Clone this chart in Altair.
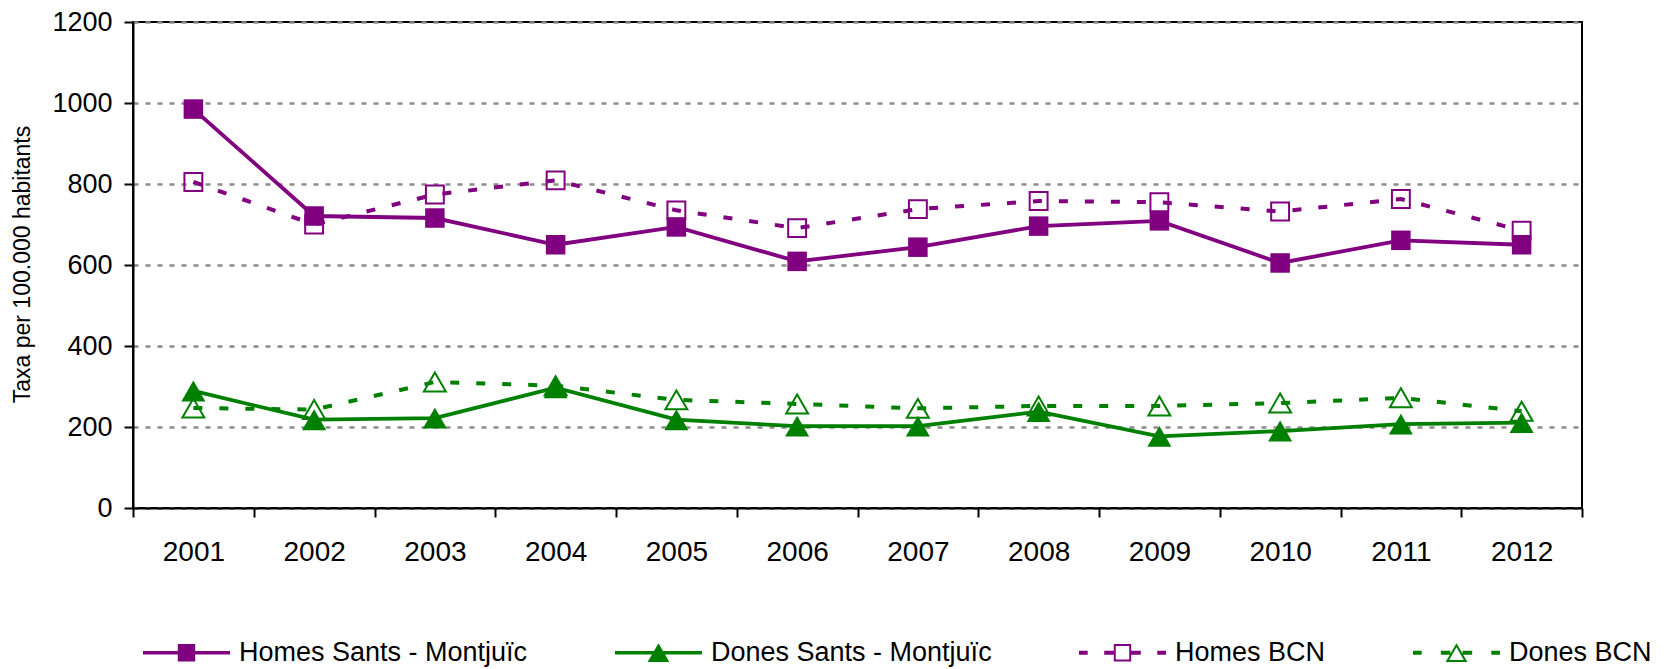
import altair as alt
import pandas as pd

years = ["2001", "2002", "2003", "2004", "2005", "2006", "2007", "2008", "2009", "2010", "2011", "2012"]
homes_sants = [985, 721, 716, 650, 694, 609, 644, 696, 709, 605, 661, 650]
dones_sants = [289, 218, 222, 297, 218, 202, 202, 238, 177, 190, 207, 211]
homes_bcn = [805, 700, 774, 809, 735, 691, 738, 758, 755, 732, 763, 685]
dones_bcn = [247, 243, 311, 302, 267, 257, 246, 252, 252, 259, 272, 239]

series_names = ["Homes Sants - Montjuïc", "Dones Sants - Montjuïc", "Homes BCN", "Dones BCN"]
series_values = [homes_sants, dones_sants, homes_bcn, dones_bcn]
series_colors = ["#800080", "#008000", "#800080", "#008000"]
series_solid = [True, True, False, False]
series_shapes = ["square", "triangle-up", "square", "triangle-up"]

rows = []
for name, vals in zip(series_names, series_values):
    for yr, v in zip(years, vals):
        rows.append({"year": yr, "value": v, "series": name})
df = pd.DataFrame(rows)

FONT = "Liberation Sans"

# legend symbols: line + marker drawn as one filled path (unit box -1..1)
solid_bar = "M-1,-0.04H1V0.04H-1Z"
dash_sq = ("M-1,-0.045H-0.8V0.045H-1Z M-0.42,-0.045H-0.2V0.045H-0.42Z "
           "M0.2,-0.045H0.42V0.045H0.2Z M0.8,-0.045H1V0.045H0.8Z")
dash_tri = ("M-1,-0.045H-0.8V0.045H-1Z M-0.36,-0.045H-0.14V0.045H-0.36Z "
            "M0.14,-0.045H0.36V0.045H0.14Z M0.8,-0.045H1V0.045H0.8Z")
sym_hs = solid_bar + " M-0.2,-0.2H0.2V0.2H-0.2Z"
sym_ds = solid_bar + " M0,-0.22L0.25,0.21H-0.25Z"
sym_hb = dash_sq + " M-0.2,-0.2H0.2V0.2H-0.2Z M-0.155,-0.155V0.155H0.155V-0.155Z"
sym_db = dash_tri + " M0,-0.22L0.25,0.21H-0.25Z M0,-0.125L-0.168,0.164H0.168Z"
legend_syms = [sym_hs, sym_ds, sym_hb, sym_db]

x_enc = alt.X(
    "year:N",
    sort=years,
    bandPosition=0.5,
    scale=alt.Scale(type="band", paddingInner=0, paddingOuter=0),
    axis=alt.Axis(
        title=None, labelAngle=0, tickBand="extent", grid=False,
        domainColor="black", domainWidth=2, tickColor="black", tickWidth=2,
        tickSize=9, labelFontSize=28, labelPadding=21, labelColor="black",
    ),
)
y_enc = alt.Y(
    "value:Q",
    scale=alt.Scale(domain=[0, 1200], nice=False),
    axis=alt.Axis(
        values=[0, 200, 400, 600, 800, 1000, 1200], format="d",
        title="Taxa per 100.000 habitants", titleFontSize=23, titleFontWeight="normal",
        titleAngle=270, titleX=-111, titleY=242, titleBaseline="middle", titleColor="black",
        labelFontSize=27, labelPadding=12, labelColor="black",
        tickSize=9, tickColor="black", tickWidth=2,
        domainColor="black", domainWidth=2,
        grid=True, gridColor="#8c8c8c", gridDash=[5, 7], gridWidth=2.5,
    ),
)

base = alt.Chart(df)
layers = []
order = [2, 3, 0, 1]  # BCN first, Sants on top
for i in order:
    name = series_names[i]
    sub = base.transform_filter(alt.datum.series == name)
    if series_solid[i]:
        line = sub.mark_line(strokeWidth=3.8, color=series_colors[i])
    else:
        line = sub.mark_line(strokeWidth=4, color=series_colors[i], strokeDash=[9, 17], strokeCap="butt")
    layers.append(line.encode(x=x_enc, y=y_enc))
    if series_solid[i]:
        size = 380 if series_shapes[i] == "square" else 580
        pts = sub.mark_point(filled=True, shape=series_shapes[i], size=size,
                             color=series_colors[i], opacity=1, strokeWidth=0)
    else:
        size = 320 if series_shapes[i] == "square" else 480
        pts = sub.mark_point(filled=False, shape=series_shapes[i], size=size,
                             color=series_colors[i], opacity=1, strokeWidth=2)
    layers.append(pts.encode(x=x_enc, y=y_enc))

# legend-only layer: no rows survive the filter, the legend comes from the fixed scale domains
legend_layer = base.transform_filter(alt.datum.value < -1).mark_point(
    filled=True, opacity=1, strokeWidth=0
).encode(
    x=x_enc,
    y=y_enc,
    color=alt.Color("series:N", scale=alt.Scale(domain=series_names, range=series_colors),
                    legend=alt.Legend(
                        title=None, orient="none", legendX=10, legendY=587,
                        direction="horizontal", columns=4,
                        symbolSize=7569, symbolStrokeWidth=0, symbolOpacity=1,
                        labelFont=FONT, labelFontSize=27, labelColor="black",
                        labelOffset=9, columnPadding=87, labelLimit=500,
                    )),
    shape=alt.Shape("series:N", scale=alt.Scale(domain=series_names, range=legend_syms)),
)
layers.append(legend_layer)

chart = alt.layer(*layers).properties(
    width=1449,
    height=486,
    autosize=alt.AutoSizeParams(type="none"),
    padding={"left": 125, "top": 14, "right": 80, "bottom": 162},
).configure_view(
    stroke="black", strokeWidth=2
).configure_axis(
    labelFont=FONT, titleFont=FONT
).configure_legend(
    labelFont=FONT
)

chart.save("out.html", embed_options={"renderer": "svg", "actions": False})
